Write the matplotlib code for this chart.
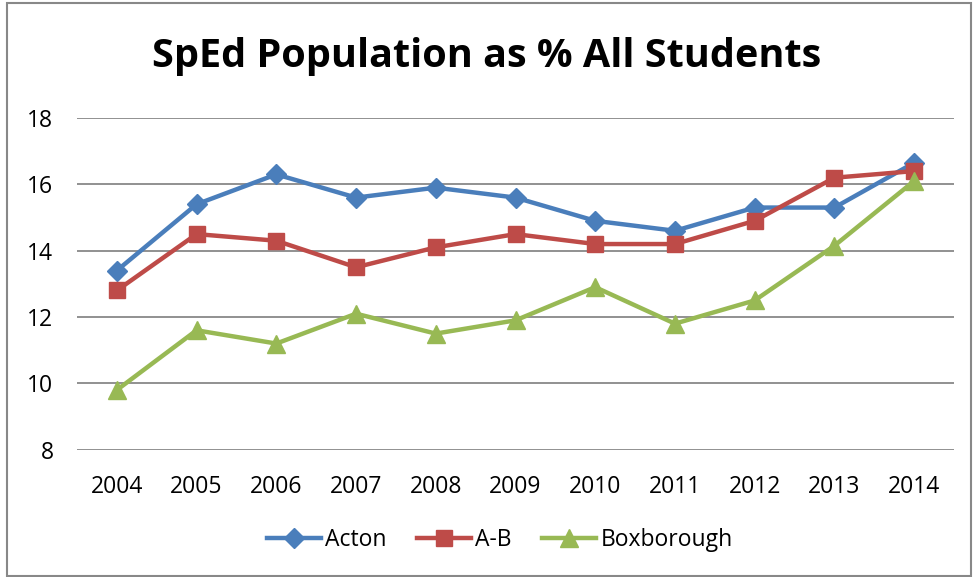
import matplotlib.pyplot as plt
from matplotlib.patches import Rectangle

years = ['2004', '2005', '2006', '2007', '2008', '2009', '2010', '2011', '2012', '2013', '2014']
acton = [13.4, 15.4, 16.3, 15.6, 15.9, 15.6, 14.9, 14.6, 15.3, 15.3, 16.65]
ab = [12.8, 14.5, 14.3, 13.5, 14.1, 14.5, 14.2, 14.2, 14.9, 16.2, 16.4]
boxborough = [9.8, 11.6, 11.2, 12.1, 11.5, 11.9, 12.9, 11.8, 12.5, 14.15, 16.1]
y_ticks = [8, 10, 12, 14, 16, 18]

plt.rcParams['font.family'] = ['Open Sans', 'DejaVu Sans']

fig = plt.figure(figsize=(9.74, 5.77), dpi=100)
ax = fig.add_axes([77 / 974, 1 - 449.7 / 577, 877 / 974, 331.7 / 577])

x = range(len(years))
ax.plot(x, acton, color='#4A7EBB', lw=3.2, marker='D', ms=10, label='Acton', zorder=3)
ax.plot(x, ab, color='#BE4B48', lw=3.2, marker='s', ms=12, label='A-B', zorder=4)
ax.plot(x, boxborough, color='#98B954', lw=3.2, marker='^', ms=13, label='Boxborough', zorder=5)

ax.set_xlim(-0.5, len(years) - 0.5)
ax.set_ylim(8, 18)
ax.set_yticks(y_ticks)
ax.set_xticks(list(x))
ax.set_xticklabels(years)
ax.grid(axis='y', color='#888888', lw=1.3)
ax.set_axisbelow(True)
for s in ax.spines.values():
    s.set_visible(False)
ax.tick_params(length=0, labelsize=16.5, colors='black')
ax.tick_params(axis='y', pad=17)
ax.tick_params(axis='x', pad=18)

fig.text(0.5, 1 - 56 / 577, 'SpEd Population as % All Students', ha='center', va='center',
         fontsize=28.5, fontweight='bold')

fig.legend(loc='center', bbox_to_anchor=(0.513, 1 - 540 / 577), ncol=3, frameon=False,
           fontsize=16.5, handlelength=2.36, handletextpad=0.2, columnspacing=1.3)

fig.patches.append(Rectangle((7 / 974, 0.002), 964 / 974, 1 - 3 / 577 - 0.002, transform=fig.transFigure,
                             fill=False, edgecolor='#888888', lw=1.5))

fig.savefig('out.png', dpi=100)
